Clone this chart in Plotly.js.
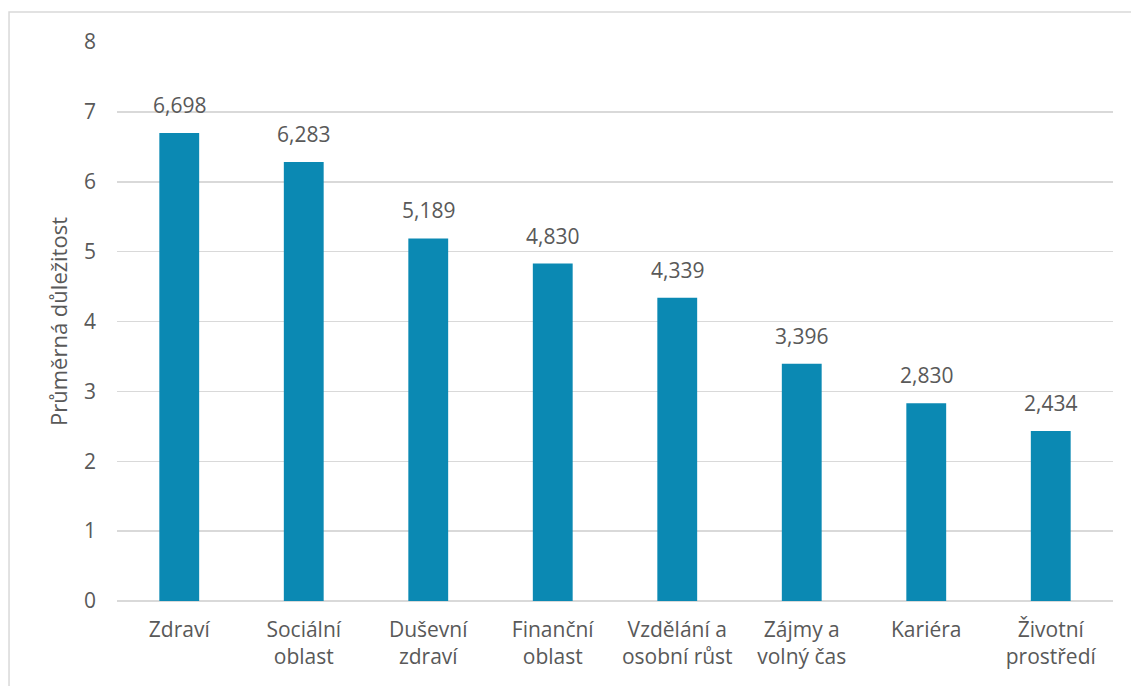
<!DOCTYPE html>
<html>
<head>
<meta charset="utf-8">
<script src="https://cdn.plot.ly/plotly-3.0.1.min.js"></script>
<style>
html,body{margin:0;padding:0;background:#fff;}
#chart{width:1131px;height:686px;}
</style>
</head>
<body>
<div id="chart"></div>
<script>
const categories = ["Zdraví", "Sociální<br>oblast", "Duševní<br>zdraví", "Finanční<br>oblast", "Vzdělání a<br>osobní růst", "Zájmy a<br>volný čas", "Kariéra", "Životní<br>prostředí"];
const values = [6.698, 6.283, 5.189, 4.830, 4.339, 3.396, 2.830, 2.434];
const yTicks = [0, 1, 2, 3, 4, 5, 6, 7, 8];
const yTitle = "Průměrná důležitost";

const fmt = v => v.toFixed(3).replace('.', ',');
const txtColor = '#595959';
const fontFam = '"Open Sans", "Noto Sans", sans-serif';
const fs = 21;

const trace = {
  type: 'bar',
  x: categories,
  y: values,
  marker: {color: '#0B89B3'},
  hoverinfo: 'skip'
};

const annotations = categories.map((c, i) => ({
  x: c, y: values[i], xref: 'x', yref: 'y',
  text: fmt(values[i]), showarrow: false,
  yanchor: 'bottom', yshift: 12,
  font: {family: fontFam, size: fs, color: txtColor}
}));

const layout = {
  width: 1131, height: 686,
  margin: {l: 117, r: 18, t: 42, b: 85},
  paper_bgcolor: '#fff', plot_bgcolor: '#fff',
  showlegend: false,
  bargap: 0.68,
  font: {family: fontFam, size: fs, color: txtColor},
  xaxis: {
    type: 'category',
    showgrid: false, showline: false, zeroline: false,
    ticks: '', ticklabelstandoff: 14,
    tickfont: {family: fontFam, size: fs, color: txtColor},
    fixedrange: true
  },
  yaxis: {
    range: [0, 8],
    tickvals: yTicks,
    ticktext: yTicks.map(String),
    showgrid: true, gridcolor: '#d9d9d9', gridwidth: 1.5,
    zeroline: true, zerolinecolor: '#d9d9d9', zerolinewidth: 1.5,
    showline: false, ticks: '', ticklabelstandoff: 20,
    tickfont: {family: fontFam, size: fs, color: txtColor},
    title: {text: yTitle, font: {family: fontFam, size: 22, color: txtColor}, standoff: 10},
    automargin: false,
    fixedrange: true
  },
  annotations: annotations,
  shapes: [{
    type: 'rect', xref: 'paper', yref: 'paper', layer: 'below',
    x0: -0.1084, x1: 1.1, y0: -0.2, y1: 1.0537,
    line: {color: '#d9d9d9', width: 1.5}, fillcolor: 'rgba(0,0,0,0)'
  }]
};

Plotly.newPlot('chart', [trace], layout, {displayModeBar: false, staticPlot: true});
</script>
</body>
</html>
